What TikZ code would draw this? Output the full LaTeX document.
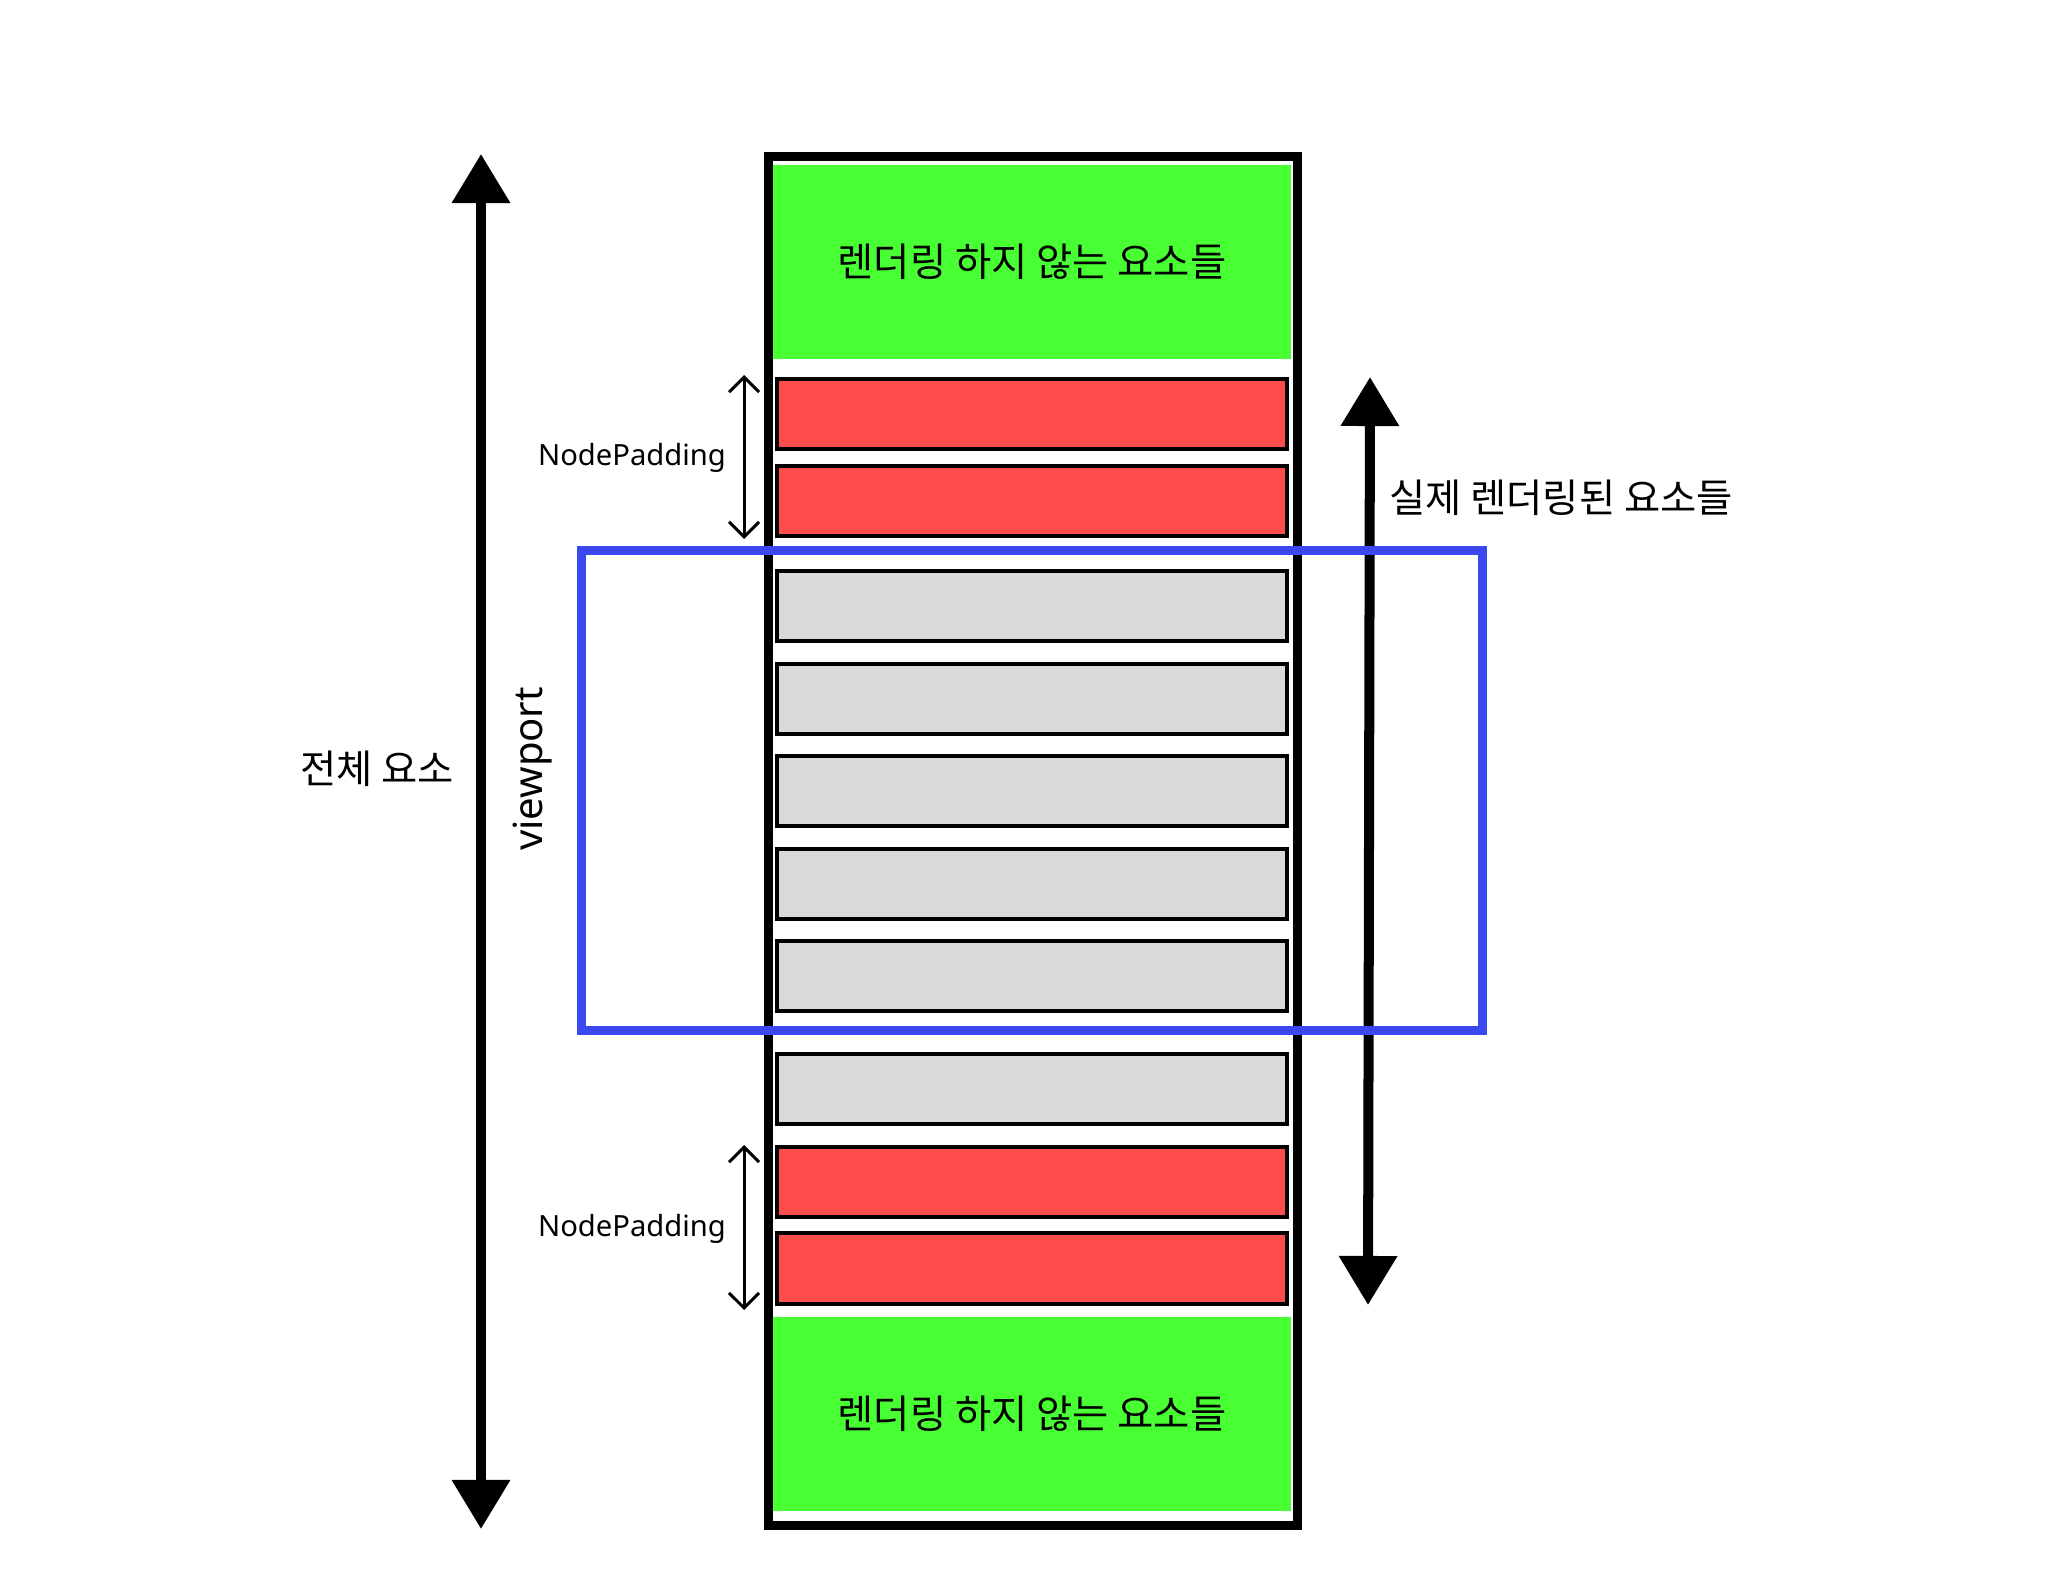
\documentclass[tikz,border=0pt]{standalone}
\usepackage{fontspec}
\setmainfont{Noto Sans}
\newfontfamily\krfont{Noto Sans CJK KR}
\usetikzlibrary{arrows.meta,positioning}

\definecolor{skipgreen}{RGB}{71,255,51}
\definecolor{padred}{RGB}{255,76,76}
\definecolor{itemgray}{RGB}{217,217,217}
\definecolor{viewblue}{RGB}{59,72,240}

\begin{document}
\begin{tikzpicture}[x=0.01cm, y=-0.01cm,
      skipped/.style={rectangle, fill=skipgreen, minimum width=5.17cm,
        minimum height=1.94cm, inner sep=0, font=\krfont\fontsize{11.2pt}{13pt}\selectfont},
      padrow/.style={rectangle, draw, line width=0.04cm, fill=padred,
        minimum width=5.10cm, minimum height=0.70cm, inner sep=0},
      itemrow/.style={padrow, fill=itemgray},
      listframe/.style={rectangle, draw, line width=0.09cm, minimum width=5.285cm,
        minimum height=13.68cm, inner sep=0},
      viewbox/.style={rectangle, draw=viewblue, line width=0.09cm, minimum width=9.00cm,
        minimum height=4.79cm, inner sep=0},
      bigarr/.style={line width=0.1cm,
        {Triangle[width=0.56cm, length=0.49cm]}-{Triangle[width=0.56cm, length=0.49cm]}},
      padarr/.style={line width=0.03cm,
        {Straight Barb[width=0.3cm, length=0.15cm]}-{Straight Barb[width=0.3cm, length=0.15cm]}},
      krlabel/.style={font=\krfont\fontsize{11.2pt}{13pt}\selectfont, inner sep=0},
      padlabel/.style={font=\fontsize{8.3pt}{10pt}\selectfont, inner sep=0}
    ]
    \useasboundingbox (0,0) rectangle (2048,1573);

    % --- list frame and its rows ---
    \node[listframe] (list) at (1033,841) {};
    \node[skipped] (skiptop) at (1032,262) {렌더링 하지 않는 요소들};
    \node[padrow] (pad1) at (1032,414) {};
    \node[padrow, below=0.13cm of pad1] (pad2) {};
    \node[itemrow, below=0.31cm of pad2] (item1) {};
    \node[itemrow, below=0.185cm of item1] (item2) {};
    \node[itemrow, below=0.185cm of item2] (item3) {};
    \node[itemrow, below=0.185cm of item3] (item4) {};
    \node[itemrow, below=0.185cm of item4] (item5) {};
    \node[itemrow, below=0.39cm of item5] (item6) {};
    \node[padrow, below=0.19cm of item6] (pad3) {};
    \node[padrow, below=0.12cm of pad3] (pad4) {};
    \node[skipped] (skipbot) at (1032,1414) {렌더링 하지 않는 요소들};

    % --- whole list arrow ---
    \coordinate (alltop) at (481,154);
    \coordinate (allbot) at (481,1529);
    \draw[bigarr] (allbot) -- (alltop);
    \node[krlabel] (alllabel) at (377,769) {전체 요소};

    % --- node padding ---
    \coordinate (padtopA) at (744,375);
    \coordinate (padtopB) at (744,539);
    \draw[padarr] (padtopA) -- (padtopB);
    \node[padlabel] (padtext1) at (632,458) {NodePadding};
    \coordinate (padbotA) at (744,1145);
    \coordinate (padbotB) at (744,1310);
    \draw[padarr] (padbotA) -- (padbotB);
    \node[padlabel] (padtext2) at (632,1229) {NodePadding};

    % --- rendered range arrow ---
    \coordinate (rendtop) at (1370,377);
    \coordinate (rendbot) at (1368,1305);
    \draw[bigarr] (rendbot) -- (rendtop);
    \node[krlabel] (rendlabel) at (1561,498) {실제 렌더링된 요소들};

    % --- viewport ---
    \node[viewbox] (view) at (1032,790.5) {};
    \node[font=\fontsize{11.4pt}{13pt}\selectfont, rotate=90, inner sep=0] (viewlabel) at (533,769) {viewport};
  \end{tikzpicture}
\end{document}
